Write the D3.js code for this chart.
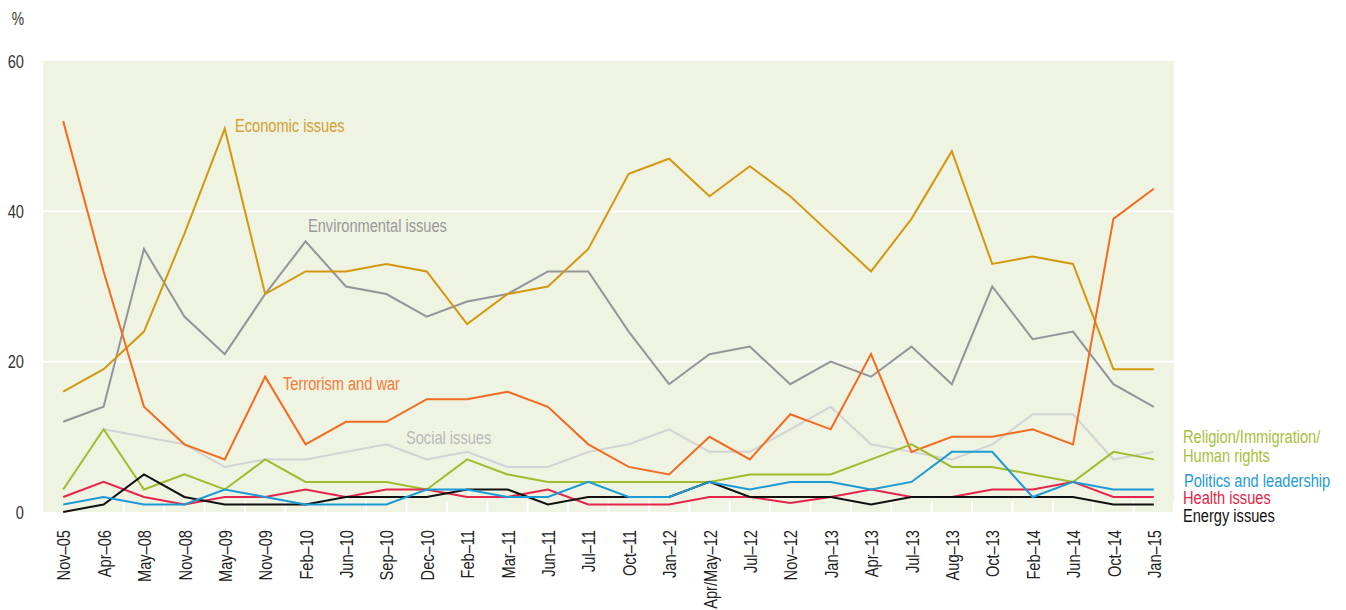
<!DOCTYPE html>
<html>
<head>
<meta charset="utf-8">
<script src="https://cdn.jsdelivr.net/npm/d3@7"></script>
<style>
  html, body { margin: 0; padding: 0; background: #fff; }
  svg { display: block; }
  text { font-family: "Liberation Sans", Arial, Helvetica, sans-serif; }
</style>
</head>
<body>
<svg id="chart" width="1346" height="610"></svg>
<script>
const categories = ["Nov\u201305","Apr\u201306","May\u201308","Nov\u201308","May\u201309","Nov\u201309","Feb\u201310","Jun\u201310","Sep\u201310","Dec\u201310","Feb\u201311","Mar\u201311","Jun\u201311","Jul\u201311","Oct\u201311","Jan\u201312","Apr/May\u201312","Jul\u201312","Nov\u201312","Jan\u201313","Apr\u201313","Jul\u201313","Aug\u201313","Oct\u201313","Feb\u201314","Jun\u201314","Oct\u201314","Jan\u201315"];

const economic      = [16,19,24,37,51,29,32,32,33,32,25,29,30,35,45,47,42,46,42,37,32,39,48,33,34,33,19,19];
const environmental = [12,14,35,26,21,29,36,30,29,26,28,29,32,32,24,17,21,22,17,20,18,22,17,30,23,24,17,14];
const terrorism     = [52,32,14,9,7,18,9,12,12,15,15,16,14,9,6,5,10,7,13,11,21,8,10,10,11,9,39,43];
const social        = [null,11,10,9,6,7,7,8,9,7,8,6,6,8,9,11,8,8,11,14,9,8,7,9,13,13,7,8];
const religion      = [3,11,3,5,3,7,4,4,4,3,7,5,4,4,4,4,4,5,5,5,7,9,6,6,5,4,8,7];
const politics      = [1,2,1,1,3,2,1,1,1,3,3,2,2,4,2,2,4,3,4,4,3,4,8,8,2,4,3,3];
const health        = [2,4,2,1,2,2,3,2,3,3,2,2,3,1,1,1,2,2,1.2,2,3,2,2,3,3,4,2,2];
const energy        = [0,1,5,2,1,1,1,2,2,2,3,3,1,2,2,2,4,2,2,2,1,2,2,2,2,2,1,1];

const yTicks = [0,20,40,60];

const series = [
  {name:"Social issues", values: social, color:"#d1d3d4"},
  {name:"Environmental issues", values: environmental, color:"#939598"},
  {name:"Economic issues", values: economic, color:"#d4980f"},
  {name:"Terrorism and war", values: terrorism, color:"#f26b21"},
  {name:"Religion", values: religion, color:"#9fbc2c"},
  {name:"Health issues", values: health, color:"#e4254b"},
  {name:"Energy issues", values: energy, color:"#111111"},
  {name:"Politics and leadership", values: politics, color:"#1b9ad6"}
];

const K = 0.77; // horizontal condensing of the font

const svg = d3.select("#chart");
const pL = 43, pR = 1174, pT = 61, pB = 512;

const x = d3.scalePoint().domain(categories).range([pL, pR]).padding(0.5);
const y = d3.scaleLinear().domain([0, 60]).range([pB, pT]);

// background
svg.append("rect").attr("x", pL).attr("y", pT)
  .attr("width", pR - pL).attr("height", pB - pT)
  .attr("fill", "#eff3e2");

// gridlines
svg.append("g").selectAll("line").data(yTicks.filter(d => d > 0 && d < 60)).join("line")
  .attr("x1", pL).attr("x2", pR)
  .attr("y1", d => y(d)).attr("y2", d => y(d))
  .attr("stroke", "#fff").attr("stroke-width", 2);

// bottom white ticks at category boundaries
const step = x.step();
const bounds = categories.map((c, i) => x(c) + step / 2).slice(1);
svg.append("g").selectAll("line").data(bounds).join("line")
  .attr("x1", d => d).attr("x2", d => d)
  .attr("y1", pB - 11).attr("y2", pB)
  .attr("stroke", "#fff").attr("stroke-width", 2);

// y labels
const yAxis = d3.axisLeft(y).tickValues(yTicks).tickSize(0).tickPadding(0);
const gy = svg.append("g").attr("transform", "translate(24,0)").call(yAxis);
gy.select(".domain").remove();
gy.selectAll("text")
  .attr("font-size", 19).attr("fill", "#333")
  .attr("x", 0).attr("dy", "0.33em")
  .attr("transform", `scale(${K},1)`)
  .style("font-family", '"Liberation Sans", Arial, sans-serif');
svg.append("text").attr("transform", `translate(24,25) scale(${K},1)`)
  .attr("text-anchor", "end")
  .attr("font-size", 18).attr("fill", "#333").text("%");

// x labels
const xAxis = d3.axisBottom(x).tickSize(0).tickPadding(0);
const gx = svg.append("g").attr("transform", `translate(0,${pB})`).call(xAxis);
gx.select(".domain").remove();
gx.selectAll("text")
  .attr("font-size", 19).attr("fill", "#222")
  .attr("text-anchor", "end")
  .attr("transform", `rotate(-90) scale(${K},1)`)
  .attr("x", -18 / K).attr("y", 0).attr("dy", "0.35em")
  .style("font-family", '"Liberation Sans", Arial, sans-serif');

// lines
const line = d3.line()
  .defined(d => d.v !== null)
  .x(d => x(d.c)).y(d => y(d.v));

svg.append("g").selectAll("path").data(series).join("path")
  .attr("d", s => line(s.values.map((v, i) => ({c: categories[i], v}))))
  .attr("fill", "none")
  .attr("stroke", s => s.color)
  .attr("stroke-width", 2)
  .attr("stroke-linejoin", "miter");

// labels
const labels = [
  {t:"Economic issues", x:235, y:132, c:"#d4a033"},
  {t:"Environmental issues", x:308, y:232, c:"#9a9a9a"},
  {t:"Terrorism and war", x:283, y:390, c:"#f47b35"},
  {t:"Social issues", x:406, y:444, c:"#b9b9b9"},
  {t:"Religion/Immigration/", x:1183, y:443, c:"#a7c03c"},
  {t:"Human rights", x:1183, y:462, c:"#a7c03c"},
  {t:"Politics and leadership", x:1184, y:487, c:"#1e9ad6"},
  {t:"Health issues", x:1183, y:504, c:"#e4254b"},
  {t:"Energy issues", x:1183, y:522, c:"#111"}
];
svg.append("g").selectAll("text").data(labels).join("text")
  .attr("transform", d => `translate(${d.x},${d.y}) scale(${K},1)`)
  .attr("fill", d => d.c).attr("font-size", 19)
  .text(d => d.t);
</script>
</body>
</html>
